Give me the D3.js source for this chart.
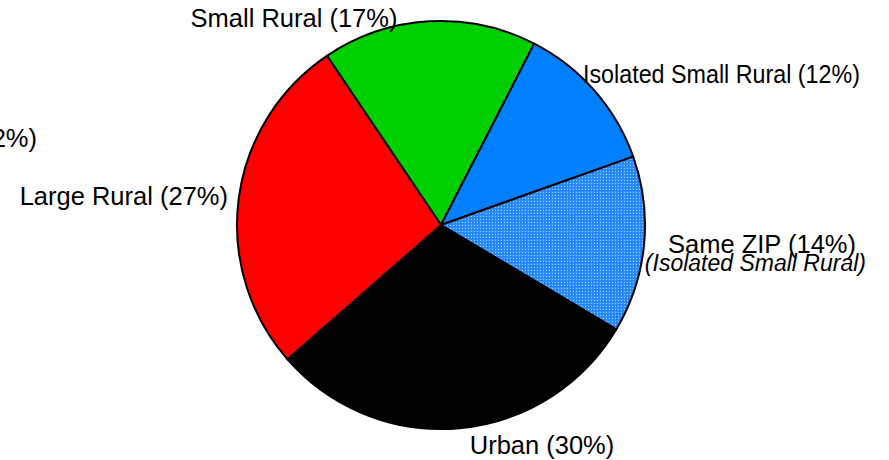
<!DOCTYPE html>
<html>
<head>
<meta charset="utf-8">
<script src="https://cdn.jsdelivr.net/npm/d3@7"></script>
<style>
  html, body { margin: 0; padding: 0; background: #fff; overflow: hidden; }
  svg { display: block; font-family: "Liberation Sans", Arial, sans-serif; }
</style>
</head>
<body>
<svg id="chart" width="889" height="460"></svg>
<script>
// Share of records by area type
const categories = ["Small Rural", "Isolated Small Rural", "Same ZIP", "Urban", "Large Rural"];
const shares = [17, 12, 14, 30, 27];
const labelTexts = [
  "Small Rural (17%)",
  "Isolated Small Rural (12%)",
  "Same ZIP (14%)",
  "Urban (30%)",
  "Large Rural (27%)"
];
const subLabels = ["", "", "(Isolated Small Rural)", "", ""];
const strayLabel = "Other (2%)";

// Layout
const W = 889, H = 460;
const cx = 441, cy = 225, R = 204;
const startDeg = -34;
const fills = ["#00d000", "#0080ff", "url(#dots)", "#000000", "#ff0000"];
// label anchor points: [x, y, anchor, fitted width or 0]
const labelPos = [
  [294, 27, "middle", 0],
  [583, 83, "start", 277],
  [668, 253, "start", 0],
  [542, 454, "middle", 0],
  [228, 205, "end", 0]
];
const subPos = [null, null, [866, 271, "end"], null, null];

const svg = d3.select("#chart");

// dotted blue fill
const defs = svg.append("defs");
const pat = defs.append("pattern")
  .attr("id", "dots").attr("patternUnits", "userSpaceOnUse")
  .attr("width", 3).attr("height", 3);
pat.append("rect").attr("width", 3).attr("height", 3).attr("fill", "#2b8cff");
pat.append("rect").attr("x", 0).attr("y", 0).attr("width", 1).attr("height", 1).attr("fill", "#9fd0ff");
pat.append("rect").attr("x", 1).attr("y", 1).attr("width", 1).attr("height", 1).attr("fill", "#1a78f0");

const pie = d3.pie()
  .sort(null)
  .value(d => d)
  .startAngle(startDeg * Math.PI / 180)
  .endAngle(startDeg * Math.PI / 180 + 2 * Math.PI);

const arc = d3.arc().innerRadius(0).outerRadius(R);

const g = svg.append("g").attr("transform", `translate(${cx},${cy})`);
g.selectAll("path.slice")
  .data(pie(shares))
  .join("path")
  .attr("class", "slice")
  .attr("d", arc)
  .attr("fill", (d, i) => fills[i])
  .attr("stroke", "#000")
  .attr("stroke-width", 2)
  .attr("stroke-linejoin", "round");

// labels
svg.selectAll("text.lbl")
  .data(labelTexts)
  .join("text")
  .attr("class", "lbl")
  .attr("x", (d, i) => labelPos[i][0])
  .attr("y", (d, i) => labelPos[i][1])
  .attr("text-anchor", (d, i) => labelPos[i][2])
  .attr("font-size", 25.5)
  .attr("fill", "#000")
  .each(function(d, i) {
    if (labelPos[i][3]) {
      d3.select(this)
        .attr("textLength", labelPos[i][3])
        .attr("lengthAdjust", "spacingAndGlyphs");
    }
  })
  .text(d => d);

subLabels.forEach((t, i) => {
  if (!t) return;
  svg.append("text")
    .attr("x", subPos[i][0]).attr("y", subPos[i][1])
    .attr("text-anchor", subPos[i][2])
    .attr("font-size", 23)
    .attr("font-style", "italic")
    .attr("fill", "#000")
    .text(t);
});

svg.append("text")
  .attr("x", 37).attr("y", 147)
  .attr("text-anchor", "end")
  .attr("font-size", 25.5)
  .attr("fill", "#000")
  .text(strayLabel);
</script>
</body>
</html>
